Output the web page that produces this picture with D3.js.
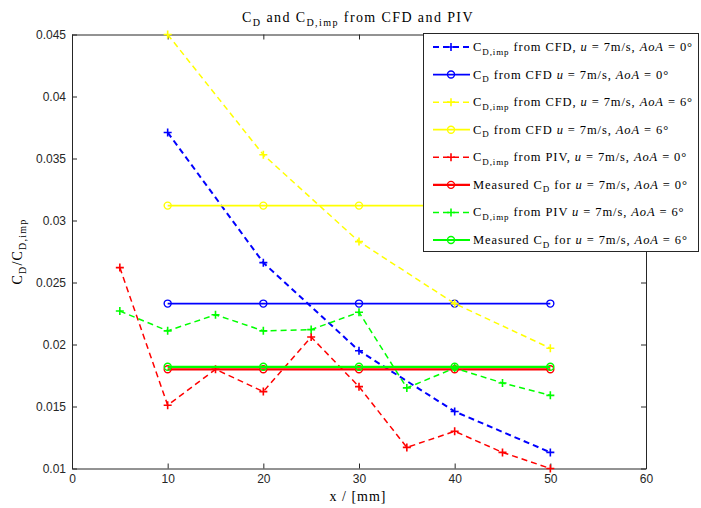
<!DOCTYPE html>
<html>
<head>
<meta charset="utf-8">
<script src="https://cdn.jsdelivr.net/npm/d3@7"></script>
<style>
  html, body { margin: 0; padding: 0; background: #fff; }
  svg { display: block; }
</style>
</head>
<body>
<script>
// Drag coefficient data along the model (x in mm)
const xCfd = [10, 20, 30, 40, 50];
const xPiv = [5, 10, 15, 20, 25, 30, 35, 40, 45, 50];

const cdImpCfd0 = [0.0371, 0.0266, 0.0195, 0.0146, 0.0113];
const cdCfd0 = [0.0233, 0.0233, 0.0233, 0.0233, 0.0233];
const cdImpCfd6 = [0.0450, 0.0353, 0.0283, 0.0233, 0.0197];
const cdCfd6 = [0.0312, 0.0312, 0.0312, 0.0312, 0.0312];
const cdImpPiv0 = [0.0262, 0.0151, 0.0180, 0.0162, 0.0206, 0.0166, 0.0117, 0.0130, 0.0113, 0.0100];
const cdMeas0 = [0.0180, 0.0180, 0.0180, 0.0180, 0.0180];
const cdImpPiv6 = [0.0227, 0.0211, 0.0224, 0.0211, 0.0212, 0.0226, 0.0165, 0.0181, 0.0169, 0.0159];
const cdMeas6 = [0.0182, 0.0182, 0.0182, 0.0182, 0.0182];

const xTicks = [0, 10, 20, 30, 40, 50, 60];
const yTicks = [0.01, 0.015, 0.02, 0.025, 0.03, 0.035, 0.04, 0.045];
const yTickLabels = ["0.01", "0.015", "0.02", "0.025", "0.03", "0.035", "0.04", "0.045"];

const W = 701, H = 508;
const margin = { left: 72, top: 34.5, right: W - 646, bottom: H - 468.5 };

const svg = d3.select("body").append("svg").attr("width", W).attr("height", H);

const x = d3.scaleLinear().domain([0, 60]).range([margin.left, W - margin.right]);
const y = d3.scaleLinear().domain([0.01, 0.045]).range([H - margin.bottom, margin.top]);

const sansFont = "'Liberation Sans', Arial, sans-serif";
const serifFont = "'Liberation Serif', 'Times New Roman', serif";

// axes box with inward ticks on all four sides
const tickLen = 5;
const axisColor = "#262626";
function styleAxis(g) {
  g.select(".domain").attr("stroke", axisColor);
  g.selectAll(".tick line").attr("stroke", axisColor);
  g.selectAll(".tick text").attr("fill", "#262626")
    .style("font-family", sansFont).style("font-size", "12px");
}
svg.append("g").attr("transform", `translate(0,${y(0.01)})`)
  .call(d3.axisBottom(x).tickValues(xTicks).tickSizeInner(-tickLen).tickSizeOuter(0).tickPadding(6).tickFormat(d3.format("d")))
  .call(styleAxis);
svg.append("g").attr("transform", `translate(0,${y(0.045)})`)
  .call(d3.axisTop(x).tickValues(xTicks).tickSizeInner(-tickLen).tickSizeOuter(0).tickFormat(""))
  .call(styleAxis);
svg.append("g").attr("transform", `translate(${x(0)},0)`)
  .call(d3.axisLeft(y).tickValues(yTicks).tickSizeInner(-tickLen).tickSizeOuter(0).tickPadding(6)
    .tickFormat((d, i) => yTickLabels[i]))
  .call(styleAxis);
svg.append("g").attr("transform", `translate(${x(60)},0)`)
  .call(d3.axisRight(y).tickValues(yTicks).tickSizeInner(-tickLen).tickSizeOuter(0).tickFormat(""))
  .call(styleAxis);

// rich text helper: segments with optional subscript / italic
function richText(sel, segs, size) {
  segs.forEach(s => {
    const t = sel.append("tspan").text(s.t);
    if (s.sub) {
      t.style("font-size", (size * 0.72) + "px").attr("dy", size * 0.28);
    } else if (s.after) {
      t.attr("dy", -size * 0.28);
    }
    if (s.it) t.style("font-style", "italic");
  });
}

// title
const title = svg.append("text").attr("x", 358).attr("y", 22).attr("text-anchor", "middle")
  .style("font-family", serifFont).style("font-size", "14px").style("letter-spacing", "1.4px").attr("fill", "#000");
richText(title, [
  { t: "C" }, { t: "D", sub: true }, { t: " and C", after: true }, { t: "D,imp", sub: true },
  { t: " from CFD and PIV", after: true }
], 14);

// axis labels
svg.append("text").attr("x", 358).attr("y", 501).attr("text-anchor", "middle")
  .style("font-family", serifFont).style("font-size", "14px").style("letter-spacing", "1px").text("x / [mm]");
const yl = svg.append("text").attr("transform", `translate(22,${(y(0.01) + y(0.045)) / 2}) rotate(-90)`)
  .attr("text-anchor", "middle").style("font-family", serifFont).style("font-size", "14px")
  .style("letter-spacing", "1.2px");
richText(yl, [
  { t: "C" }, { t: "D", sub: true }, { t: "/C", after: true }, { t: "D,imp", sub: true }
], 14);

// series definitions
const series = [
  { xs: xCfd, ys: cdImpCfd0, color: "#0000ff", dash: true, marker: "plus", width: 2,
    label: [{ t: "C" }, { t: "D,imp", sub: true }, { t: " from CFD, ", after: true }, { t: "u", it: true }, { t: " = 7m/s, " }, { t: "AoA", it: true }, { t: " = 0°" }] },
  { xs: xCfd, ys: cdCfd0, color: "#0000ff", dash: false, marker: "circle", width: 1.8,
    label: [{ t: "C" }, { t: "D", sub: true }, { t: " from CFD ", after: true }, { t: "u", it: true }, { t: " = 7m/s, " }, { t: "AoA", it: true }, { t: " = 0°" }] },
  { xs: xCfd, ys: cdImpCfd6, color: "#ffff00", dash: true, marker: "plus", width: 1.5,
    label: [{ t: "C" }, { t: "D,imp", sub: true }, { t: " from CFD, ", after: true }, { t: "u", it: true }, { t: " = 7m/s, " }, { t: "AoA", it: true }, { t: " = 6°" }] },
  { xs: xCfd, ys: cdCfd6, color: "#ffff00", dash: false, marker: "circle", width: 1.8,
    label: [{ t: "C" }, { t: "D", sub: true }, { t: " from CFD ", after: true }, { t: "u", it: true }, { t: " = 7m/s, " }, { t: "AoA", it: true }, { t: " = 6°" }] },
  { xs: xPiv, ys: cdImpPiv0, color: "#ff0000", dash: true, marker: "plus", width: 1.5,
    label: [{ t: "C" }, { t: "D,imp", sub: true }, { t: " from PIV, ", after: true }, { t: "u", it: true }, { t: " = 7m/s, " }, { t: "AoA", it: true }, { t: " = 0°" }] },
  { xs: xCfd, ys: cdMeas0, color: "#ff0000", dash: false, marker: "circle", width: 2.2,
    label: [{ t: "Measured C" }, { t: "D", sub: true }, { t: " for ", after: true }, { t: "u", it: true }, { t: " = 7m/s, " }, { t: "AoA", it: true }, { t: " = 0°" }] },
  { xs: xPiv, ys: cdImpPiv6, color: "#00ff00", dash: true, marker: "plus", width: 1.5,
    label: [{ t: "C" }, { t: "D,imp", sub: true }, { t: " from PIV ", after: true }, { t: "u", it: true }, { t: " = 7m/s, " }, { t: "AoA", it: true }, { t: " = 6°" }] },
  { xs: xCfd, ys: cdMeas6, color: "#00ff00", dash: false, marker: "circle", width: 2.2,
    label: [{ t: "Measured C" }, { t: "D", sub: true }, { t: " for ", after: true }, { t: "u", it: true }, { t: " = 7m/s, " }, { t: "AoA", it: true }, { t: " = 6°" }] }
];

const line = d3.line().x(d => x(d[0])).y(d => y(d[1]));

function drawMarker(g, cx, cy, kind, color) {
  if (kind === "plus") {
    g.append("path").attr("d", `M${cx - 4},${cy}H${cx + 4}M${cx},${cy - 4}V${cy + 4}`)
      .attr("stroke", color).attr("stroke-width", 1.6).attr("fill", "none");
  } else {
    g.append("circle").attr("cx", cx).attr("cy", cy).attr("r", 3.5)
      .attr("stroke", color).attr("stroke-width", 1.4).attr("fill", "none");
  }
}

const plot = svg.append("g");
series.forEach(s => {
  const pts = s.xs.map((v, i) => [v, s.ys[i]]);
  const g = plot.append("g");
  g.append("path").datum(pts).attr("d", line)
    .attr("fill", "none").attr("stroke", s.color).attr("stroke-width", s.width)
    .attr("stroke-dasharray", s.dash ? "6,4" : null);
  pts.forEach(p => drawMarker(g, x(p[0]), y(p[1]), s.marker, s.color));
});

// legend
const lg = svg.append("g");
lg.append("rect").attr("x", 423.5).attr("y", 33.5).attr("width", 275).attr("height", 218)
  .attr("fill", "#fff").attr("stroke", "#262626").attr("stroke-width", 1);
const rowY = d3.scaleLinear().domain([0, 7]).range([47, 240]);
series.forEach((s, i) => {
  const cy = rowY(i);
  lg.append("line").attr("x1", 433).attr("x2", 470).attr("y1", cy).attr("y2", cy)
    .attr("stroke", s.color).attr("stroke-width", s.width)
    .attr("stroke-dasharray", s.dash ? "6,4" : null);
  drawMarker(lg, 451, cy, s.marker, s.color);
  const t = lg.append("text").attr("x", 473).attr("y", cy + 4)
    .style("font-family", serifFont).style("font-size", "12.5px").style("letter-spacing", "0.9px")
    .attr("fill", "#000");
  richText(t, s.label, 12.5);
});
</script>
</body>
</html>
